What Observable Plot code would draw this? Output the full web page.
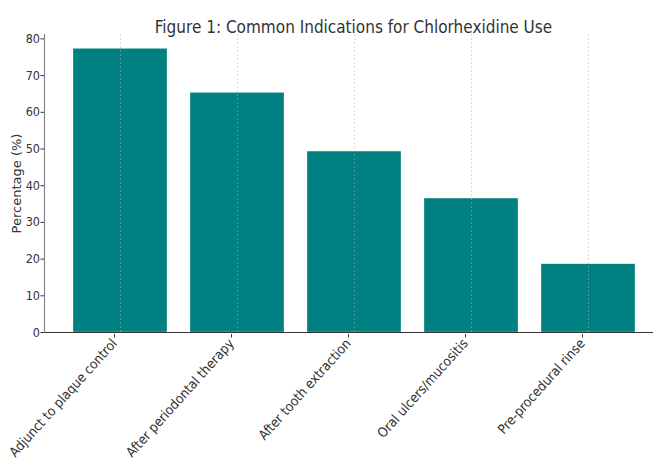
<!DOCTYPE html>
<html>
<head>
<meta charset="utf-8">
<script src="https://cdn.jsdelivr.net/npm/d3@7"></script>
<script src="https://cdn.jsdelivr.net/npm/@observablehq/plot@0.6"></script>
<style>
  html, body { margin: 0; padding: 0; background: #fff; }
  svg { display: block; }
  .cond { font-family: "DejaVu Sans Condensed", "DejaVu Sans", sans-serif; }
</style>
</head>
<body>
<div id="chart"></div>
<script>
const categories = [
  "Adjunct to plaque control",
  "After periodontal therapy",
  "After tooth extraction",
  "Oral ulcers/mucositis",
  "Pre-procedural rinse"
];
const values = [77.3, 65.3, 49.3, 36.5, 18.6];
const yTicks = [0, 10, 20, 30, 40, 50, 60, 70, 80];
const titleText = "Figure 1: Common Indications for Chlorhexidine Use";
const yLabel = "Percentage (%)";

const data = categories.map((c, i) => ({category: c, value: values[i]}));

const chart = Plot.plot({
  width: 653,
  height: 459,
  marginLeft: 44,
  marginTop: 34,
  marginBottom: 127,
  marginRight: 0,
  style: {fontFamily: "DejaVu Sans", fontSize: "12px", color: "#333", background: "#fff"},
  x: {domain: categories, range: [44.4, 663.4], paddingInner: 0.2, paddingOuter: 0.24, align: 0.5},
  y: {domain: [0, 81.2]},
  marks: [
    Plot.barY(data, {x: "category", y: "value", fill: "#008080", stroke: "#ffffff", strokeWidth: 0.6, strokeOpacity: 0.5}),
    Plot.gridX(categories, {stroke: "#b0b0b0", strokeOpacity: 0.6, strokeDasharray: "2,2", strokeWidth: 0.8}),
    Plot.ruleY([0], {stroke: "#333", strokeWidth: 1.2}),
    Plot.frame({anchor: "left", stroke: "#888", strokeWidth: 1.2}),
    Plot.axisY({ticks: yTicks, tickSize: 3.5, tickPadding: 1, label: null, fontSize: 12.5, fill: "#333", className: "cond"}),
    Plot.axisX({tickSize: 3.5, tickRotate: -48, tickPadding: 3, dx: -6, dy: 2, label: null, fontSize: 13.5, fill: "#333", className: "cond"}),
    Plot.text([titleText], {frameAnchor: "top", dy: -14, dx: 4.5, fontSize: 17, fill: "#333", className: "cond"}),
    Plot.text([yLabel], {frameAnchor: "left", dx: -28, rotate: -90, textAnchor: "middle", fontSize: 13, fill: "#333"})
  ]
});
document.getElementById("chart").appendChild(chart);
</script>
</body>
</html>
